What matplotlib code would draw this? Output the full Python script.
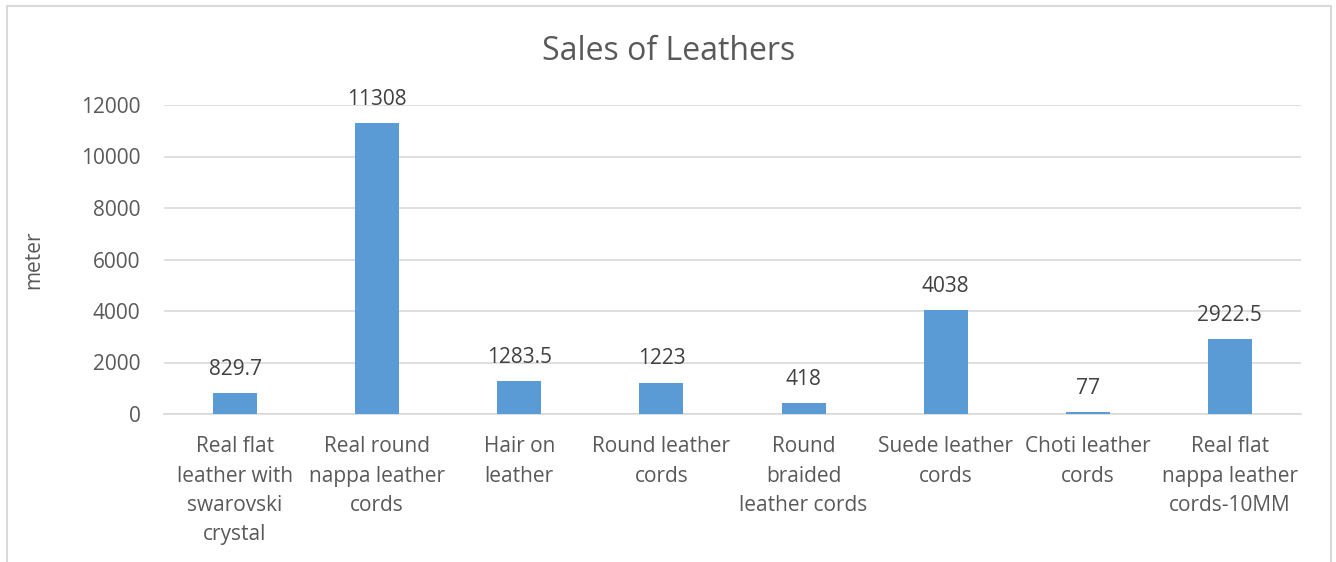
import matplotlib
matplotlib.use('Agg')
import matplotlib.pyplot as plt
from matplotlib.patches import Rectangle

# data
categories = ['Real flat\nleather with\nswarovski\ncrystal',
              'Real round\nnappa leather\ncords',
              'Hair on\nleather',
              'Round leather\ncords',
              'Round\nbraided\nleather cords',
              'Suede leather\ncords',
              'Choti leather\ncords',
              'Real flat\nnappa leather\ncords-10MM']
values = [829.7, 11308, 1283.5, 1223, 418, 4038, 77, 2922.5]
value_labels = ['829.7', '11308', '1283.5', '1223', '418', '4038', '77', '2922.5']
yticks = [0, 2000, 4000, 6000, 8000, 10000, 12000]

plt.rcParams['font.family'] = ['Open Sans', 'DejaVu Sans']
txt = '#595959'
bar_color = '#5B9BD5'
grid_color = '#D9D9D9'

fig = plt.figure(figsize=(13.36, 5.62), dpi=100)
ax = fig.add_axes([164/1336, 1 - 414/562, (1301-164)/1336, (414-105)/562])

x = range(len(categories))
ax.bar(x, values, width=0.31, color=bar_color, zorder=3)
# value labels above the bars
for xi, v, lab in zip(x, values, value_labels):
    ax.annotate(lab, (xi, v), xytext=(0, 17), textcoords='offset points',
                ha='center', va='center', fontsize=15, color='#404040')

ax.set_xlim(-0.5, len(categories) - 0.5)
ax.set_ylim(0, 12000)
ax.set_yticks(yticks)
ax.set_yticklabels([str(t) for t in yticks], fontsize=15, color=txt)
ax.set_xticks(list(x))
ax.set_xticklabels(categories, fontsize=15, color=txt, linespacing=1.52)
ax.tick_params(axis='both', length=0)
ax.tick_params(axis='y', pad=17)
ax.tick_params(axis='x', pad=16)
ax.yaxis.grid(True, color=grid_color, linewidth=1.2, zorder=0)
for s in ['top', 'right', 'left']:
    ax.spines[s].set_visible(False)
ax.spines['bottom'].set_color(grid_color)
ax.spines['bottom'].set_linewidth(1.2)
ax.set_ylabel('meter', fontsize=15, color=txt)
ax.yaxis.set_label_coords((44 - 164) / 1137, 0.5)

fig.text(669/1336, 1 - 51/562, 'Sales of Leathers', ha='center', va='center',
         fontsize=23, color=txt)

# chart border
fig.patches.append(Rectangle((7/1336, -0.1), (1331-7)/1336, 1.1 - 6/562,
                             transform=fig.transFigure, fill=False,
                             edgecolor='#D9D9D9', linewidth=1.5))

fig.savefig('out.png', dpi=100)
